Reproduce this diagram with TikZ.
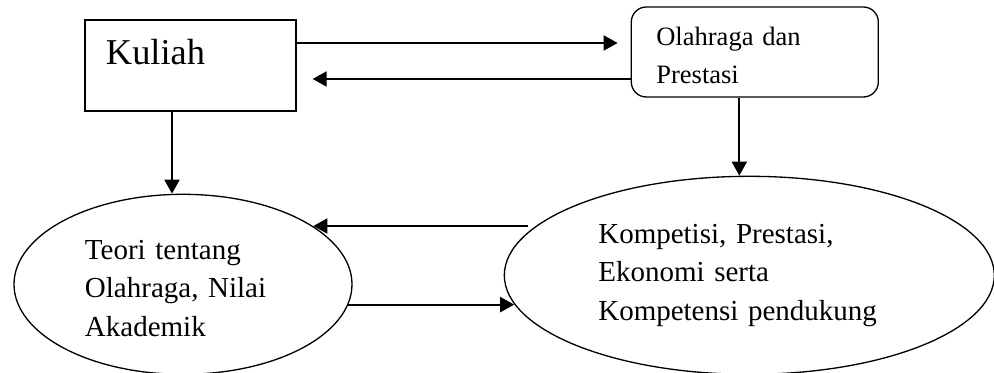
\documentclass[tikz,border=0pt]{standalone}
\usepackage{fontspec}
\setmainfont{Liberation Serif}
\usepackage{tikz}
\usetikzlibrary{shapes.geometric,positioning,arrows.meta}

\begin{document}
\begin{tikzpicture}[>={Triangle[length=0.28cm,width=0.3cm]}, line width=0.75pt,
    flow/.style={->, line width=1.15pt},
    oval/.style={draw, ellipse, inner sep=0pt, align=left, text height=0.6cm, font=\fontsize{16.5}{21.9}\selectfont}]
    \useasboundingbox (-3.81,1.31) rectangle (16.07,-6.15);

    \node [draw, rectangle, inner sep=0pt, inner xsep=0.42cm, text width=3.38cm, text height=0.9cm, text depth=0.92cm, font=\fontsize{20.7}{24}\selectfont] (kuliah) {Kuliah};
    \node [draw, rectangle, rounded corners=0.3cm, inner sep=0pt, inner xsep=0.5cm, text width=3.94cm, text height=0.78cm, text depth=1.02cm, align=left, font=\fontsize{15.1}{21.3}\selectfont, right=6.68cm of kuliah, yshift=0.27cm] (olahraga) {Olahraga dan\\Prestasi};
    \node [oval, text width=3.92cm, text depth=1.6cm, minimum width=6.76cm, minimum height=3.6cm, below=1.64cm of kuliah, xshift=-0.15cm] (teori) {Teori tentang\\Olahraga, Nilai\\Akademik};
    \node [oval, text width=6.04cm, text depth=1.88cm, minimum width=9.8cm, minimum height=3.96cm, below=1.56cm of olahraga, xshift=-0.11cm] (kompetisi) {Kompetisi, Prestasi,\\Ekonomi serta\\Kompetensi pendukung};

    \draw [flow, shorten >=0.26cm] ([yshift=0.45cm]kuliah.east) -- ([yshift=0.45cm]kuliah.east -| olahraga.west);
    \draw [flow, shorten >=0.32cm] ([yshift=-0.27cm]kuliah.east -| olahraga.west) -- ([yshift=-0.27cm]kuliah.east);
    \draw [flow] ([xshift=-0.37cm]kuliah.south) -- ([xshift=-0.37cm]kuliah.south |- teori.north);
    \draw [flow] ([xshift=-0.31cm]olahraga.south) -- ([xshift=-0.31cm]olahraga.south |- kompetisi.north);

    \draw [flow, shorten <=0.16cm] (kompetisi.167) -- (teori.24 |- kompetisi.167);
    \draw [flow] (teori.-7) -- (kompetisi.187 |- teori.-7);
\end{tikzpicture}
\end{document}
